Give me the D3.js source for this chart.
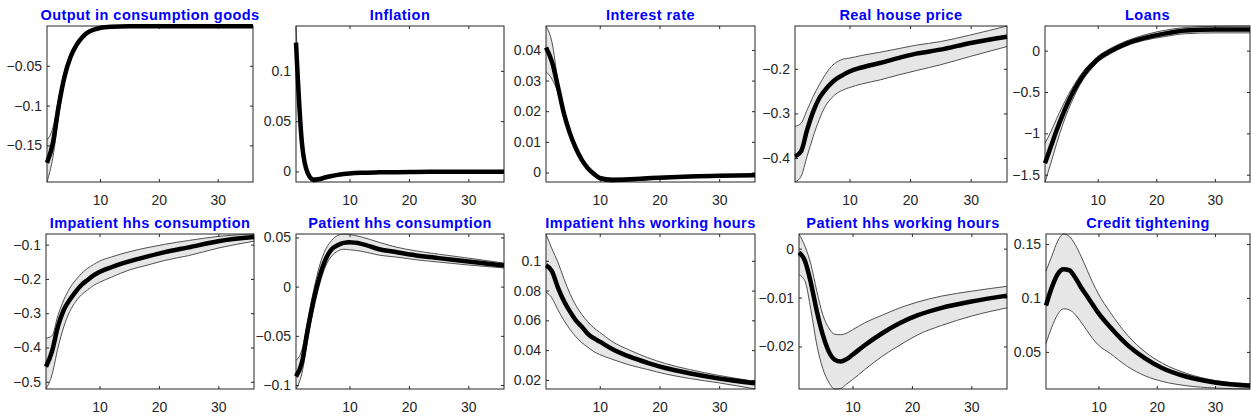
<!DOCTYPE html>
<html><head><meta charset="utf-8">
<script src="https://cdn.jsdelivr.net/npm/d3@7/dist/d3.min.js"></script>
<style>html,body{margin:0;padding:0;background:#fff;}svg{display:block;}</style>
</head><body>
<svg id="chart" width="1251" height="418"></svg>
<script>
// ---------------- DATA ----------------
const periods = [1,2,3,4,5,6,7,8,9,10,12,15,18,21,25,30,36];
const xTicks = [10,20,30];
const titles = ["Output in consumption goods","Inflation","Interest rate","Real house price","Loans",
  "Impatient hhs consumption","Patient hhs consumption","Impatient hhs working hours","Patient hhs working hours","Credit tightening"];

const outputMed = [-0.172,-0.147,-0.100,-0.063,-0.039,-0.024,-0.014,-0.0078,-0.0045,-0.0025,-0.001,-0.0004,-0.0003,-0.0003,-0.0003,-0.0003,-0.0003];
const outputHi  = [-0.143,-0.128,-0.090,-0.056,-0.034,-0.021,-0.012,-0.0065,-0.0037,-0.002,-0.0007,-0.0002,0,0,0,0,0];
const outputLo  = [-0.196,-0.165,-0.112,-0.070,-0.044,-0.027,-0.016,-0.009,-0.0053,-0.003,-0.0013,-0.0006,-0.0004,-0.0004,-0.0004,-0.0004,-0.0004];
const outputTicks = [-0.15,-0.1,-0.05];

const inflMed = [0.128,0.028,-0.002,-0.0082,-0.0075,-0.0058,-0.0045,-0.0034,-0.0026,-0.002,-0.0013,-0.0009,-0.0007,-0.0005,-0.0004,-0.0003,-0.0003];
const inflHi  = [0.1446,0.034,0.0005,-0.0065,-0.006,-0.0046,-0.0036,-0.0027,-0.002,-0.0015,-0.0009,-0.0006,-0.0004,-0.0003,-0.0002,-0.0001,-0.0001];
const inflLo  = [0.112,0.022,-0.0045,-0.0105,-0.0092,-0.007,-0.0055,-0.0042,-0.0033,-0.0026,-0.0018,-0.0013,-0.001,-0.0008,-0.0007,-0.0006,-0.0005];
const inflTicks = [0,0.05,0.1];

const rateMed = [0.0408,0.0361,0.028,0.0193,0.0128,0.0079,0.0041,0.0014,-0.0004,-0.0018,-0.0024,-0.0022,-0.0019,-0.0016,-0.0013,-0.0011,-0.0009];
const rateHi  = [0.0478,0.0425,0.030,0.0205,0.0137,0.0086,0.0047,0.0019,0.0001,-0.0013,-0.0019,-0.0018,-0.0015,-0.0012,-0.001,-0.0008,-0.0006];
const rateLo  = [0.0329,0.0305,0.026,0.0181,0.0119,0.0072,0.0035,0.0009,-0.0009,-0.0023,-0.0031,-0.0028,-0.0024,-0.002,-0.0017,-0.0014,-0.0012];
const rateTicks = [0,0.01,0.02,0.03,0.04];

const houseMed = [-0.396,-0.385,-0.337,-0.296,-0.266,-0.247,-0.232,-0.221,-0.213,-0.206,-0.197,-0.187,-0.176,-0.166,-0.157,-0.142,-0.128];
const houseHi  = [-0.329,-0.322,-0.292,-0.262,-0.236,-0.213,-0.195,-0.184,-0.178,-0.176,-0.170,-0.163,-0.155,-0.147,-0.139,-0.124,-0.104];
const houseLo  = [-0.4537,-0.441,-0.396,-0.352,-0.314,-0.284,-0.266,-0.254,-0.247,-0.242,-0.234,-0.225,-0.214,-0.204,-0.191,-0.172,-0.150];
const houseTicks = [-0.4,-0.3,-0.2];

const loansMed = [-1.36,-1.16,-0.96,-0.78,-0.615,-0.475,-0.354,-0.253,-0.173,-0.104,-0.012,0.089,0.155,0.20,0.243,0.255,0.255];
const loansHi  = [-1.12,-0.98,-0.82,-0.67,-0.53,-0.41,-0.30,-0.21,-0.135,-0.07,0.02,0.12,0.19,0.24,0.28,0.295,0.298];
const loansLo  = [-1.588,-1.36,-1.12,-0.90,-0.71,-0.55,-0.41,-0.30,-0.215,-0.14,-0.045,0.06,0.125,0.165,0.205,0.215,0.215];
const loansTicks = [-1.5,-1,-0.5,0];

const impConsMed = [-0.456,-0.412,-0.339,-0.290,-0.261,-0.237,-0.217,-0.203,-0.190,-0.180,-0.166,-0.149,-0.135,-0.122,-0.108,-0.090,-0.078];
const impConsHi  = [-0.373,-0.366,-0.307,-0.261,-0.227,-0.203,-0.184,-0.169,-0.158,-0.148,-0.136,-0.121,-0.109,-0.099,-0.088,-0.076,-0.069];
const impConsLo  = [-0.521,-0.48,-0.402,-0.339,-0.295,-0.266,-0.246,-0.232,-0.219,-0.210,-0.195,-0.174,-0.160,-0.146,-0.132,-0.110,-0.090];
const impConsTicks = [-0.5,-0.4,-0.3,-0.2,-0.1];

const patConsMed = [-0.0913,-0.077,-0.043,-0.0125,0.011,0.028,0.038,0.042,0.0445,0.045,0.0435,0.038,0.035,0.032,0.029,0.0255,0.0214];
const patConsHi  = [-0.075,-0.064,-0.033,-0.003,0.022,0.038,0.047,0.052,0.0535,0.053,0.0505,0.045,0.040,0.0365,0.033,0.029,0.024];
const patConsLo  = [-0.104,-0.088,-0.052,-0.022,0.003,0.021,0.031,0.036,0.038,0.0375,0.036,0.032,0.030,0.0275,0.025,0.022,0.019];
const patConsTicks = [-0.1,-0.05,0,0.05];

const impHoursMed = [0.097,0.093,0.082,0.073,0.066,0.060,0.0557,0.051,0.048,0.0457,0.041,0.0356,0.0315,0.028,0.0245,0.021,0.0178];
const impHoursHi  = [0.118,0.108,0.099,0.088,0.078,0.070,0.064,0.059,0.055,0.052,0.046,0.040,0.035,0.031,0.027,0.023,0.019];
const impHoursLo  = [0.079,0.075,0.067,0.060,0.054,0.049,0.045,0.042,0.039,0.037,0.034,0.030,0.027,0.024,0.021,0.018,0.0139];
const impHoursTicks = [0.02,0.04,0.06,0.08,0.1];

const patHoursMed = [-0.0008,-0.0025,-0.007,-0.0128,-0.0176,-0.021,-0.0227,-0.0231,-0.0226,-0.0217,-0.0198,-0.0173,-0.0152,-0.0136,-0.0121,-0.0108,-0.0096];
const patHoursHi  = [0.003,0.0005,-0.0032,-0.0087,-0.0135,-0.0162,-0.0175,-0.0176,-0.0173,-0.0166,-0.0152,-0.0136,-0.0121,-0.0109,-0.0097,-0.0087,-0.0077];
const patHoursLo  = [-0.0053,-0.0066,-0.0125,-0.0197,-0.0245,-0.0273,-0.0287,-0.0286,-0.0277,-0.0268,-0.0248,-0.022,-0.0197,-0.0176,-0.0157,-0.0138,-0.0121];
const patHoursTicks = [-0.02,-0.01,0];

const creditMed = [0.093,0.1098,0.122,0.1266,0.1257,0.119,0.110,0.102,0.0939,0.086,0.0731,0.0563,0.044,0.0349,0.0272,0.0217,0.0187];
const creditHi  = [0.125,0.1388,0.1526,0.1593,0.157,0.1495,0.1388,0.1266,0.1144,0.1037,0.0868,0.0654,0.050,0.0394,0.0303,0.0235,0.0205];
const creditLo  = [0.0578,0.073,0.0847,0.090,0.089,0.0847,0.0777,0.070,0.0624,0.0563,0.0486,0.0364,0.0278,0.0226,0.0187,0.0165,0.0156];
const creditTicks = [0.05,0.1,0.15];

// --------------- LAYOUT ----------------
const panels = [
  {med: outputMed, hi: outputHi, lo: outputLo, ticks: outputTicks, box: [47,26,253,182]},
  {med: inflMed, hi: inflHi, lo: inflLo, ticks: inflTicks, box: [296,26,504,182]},
  {med: rateMed, hi: rateHi, lo: rateLo, ticks: rateTicks, box: [546,26,755,182]},
  {med: houseMed, hi: houseHi, lo: houseLo, ticks: houseTicks, box: [795,26,1007,182]},
  {med: loansMed, hi: loansHi, lo: loansLo, ticks: loansTicks, box: [1045,26,1250,182]},
  {med: impConsMed, hi: impConsHi, lo: impConsLo, ticks: impConsTicks, box: [46,234,254,389]},
  {med: patConsMed, hi: patConsHi, lo: patConsLo, ticks: patConsTicks, box: [296,234,504,389]},
  {med: impHoursMed, hi: impHoursHi, lo: impHoursLo, ticks: impHoursTicks, box: [546,234,755,389]},
  {med: patHoursMed, hi: patHoursHi, lo: patHoursLo, ticks: patHoursTicks, box: [799,234,1007,389]},
  {med: creditMed, hi: creditHi, lo: creditLo, ticks: creditTicks, box: [1046,234,1250,389]}
];

const svg = d3.select("#chart");
const font = "'Liberation Sans', Arial, Helvetica, sans-serif";
const axisColor = "#262626";
const fmt = v => String(+v.toFixed(4)).replace("-", "\u2212");

panels.forEach((p, i) => {
  const [x0, y0, x1, y1] = p.box;
  const x = d3.scaleLinear().domain([1, 36]).range([x0, x1]);
  const y = d3.scaleLinear().domain([d3.min(p.lo), d3.max(p.hi)]).range([y1, y0]);
  const g = svg.append("g");
  const rows = periods.map((t, k) => ({t, m: p.med[k], h: p.hi[k], l: p.lo[k]}));

  g.append("path").datum(rows)
    .attr("d", d3.area().x(d => x(d.t)).y0(d => y(d.l)).y1(d => y(d.h)).curve(d3.curveMonotoneX))
    .attr("fill", "#e6e6e6").attr("stroke", "none");
  ["h","l"].forEach(key => {
    g.append("path").datum(rows)
      .attr("d", d3.line().x(d => x(d.t)).y(d => y(d[key])).curve(d3.curveMonotoneX))
      .attr("fill", "none").attr("stroke", "#505050").attr("stroke-width", 1);
  });

  // box
  g.append("rect").attr("x", x0).attr("y", y0).attr("width", x1 - x0).attr("height", y1 - y0)
    .attr("fill", "none").attr("stroke", axisColor).attr("stroke-width", 1);

  // axes (bottom/left labelled, top/right mirrored ticks)
  const xb = g.append("g").attr("transform", `translate(0,${y1})`)
    .call(d3.axisBottom(x).tickValues(xTicks).tickSizeInner(-3).tickSizeOuter(0).tickPadding(13).tickFormat(d3.format("d")));
  const xt = g.append("g").attr("transform", `translate(0,${y0})`)
    .call(d3.axisTop(x).tickValues(xTicks).tickSizeInner(-3).tickSizeOuter(0).tickFormat(""));
  const yl = g.append("g").attr("transform", `translate(${x0},0)`)
    .call(d3.axisLeft(y).tickValues(p.ticks).tickSizeInner(-3).tickSizeOuter(0).tickPadding(5).tickFormat(fmt));
  const yr = g.append("g").attr("transform", `translate(${x1},0)`)
    .call(d3.axisRight(y).tickValues(p.ticks).tickSizeInner(-3).tickSizeOuter(0).tickFormat(""));
  [xb, xt, yl, yr].forEach(a => {
    a.select(".domain").remove();
    a.selectAll("line").attr("stroke", axisColor).attr("stroke-width", 1);
    a.selectAll("text").attr("fill", axisColor).style("font-family", font).style("font-size", "14px");
  });

  // median
  g.append("path").datum(rows)
    .attr("d", d3.line().x(d => x(d.t)).y(d => y(d.m)).curve(d3.curveMonotoneX))
    .attr("fill", "none").attr("stroke", "#000").attr("stroke-width", 4.5)
    .attr("stroke-linejoin", "round");

  // title
  g.append("text").attr("x", (x0 + x1) / 2).attr("y", y0 - 6.5)
    .attr("text-anchor", "middle").attr("fill", "#0000ff")
    .style("font-family", font).style("font-weight", "bold").style("font-size", "14.5px")
    .style("letter-spacing", "0.45px")
    .text(titles[i]);
});
</script>
</body></html>
